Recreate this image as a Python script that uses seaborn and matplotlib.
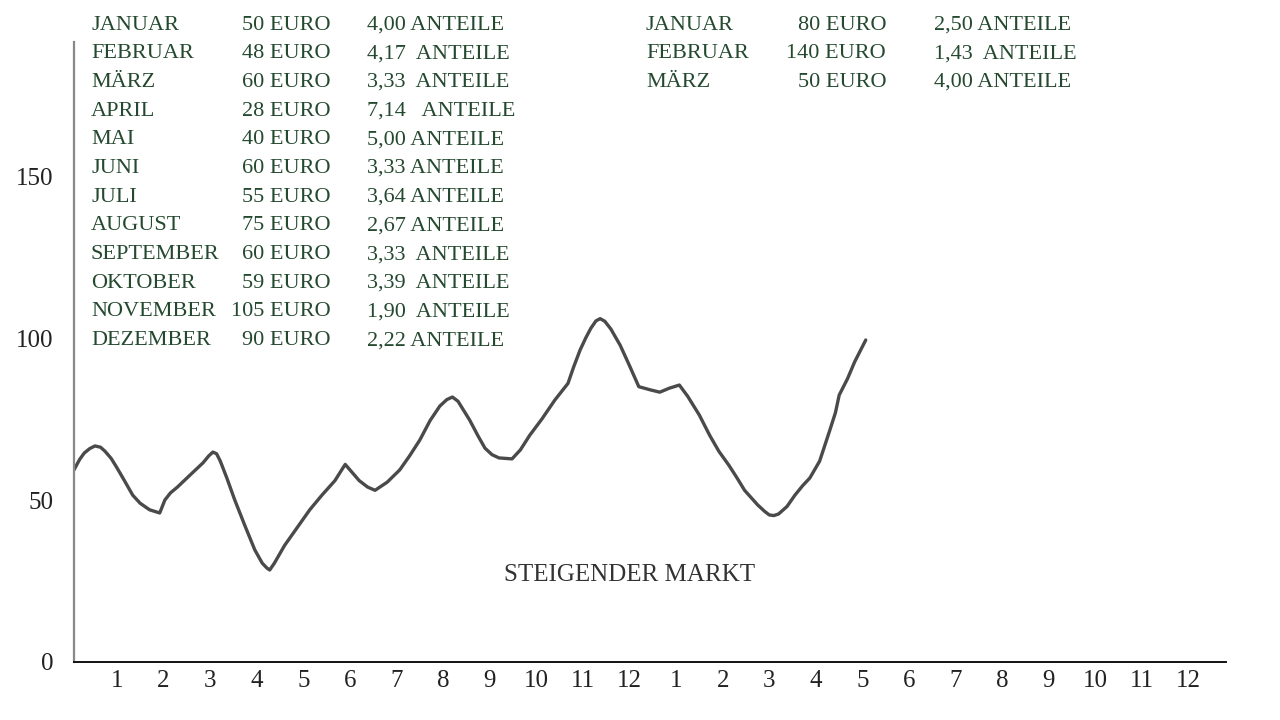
import matplotlib
matplotlib.use("Agg")
import matplotlib.pyplot as plt
import seaborn as sns
import pandas as pd

sns.set_style("white")
plt.rcParams['font.family'] = ['Liberation Serif', 'DejaVu Serif']

# price curve (x = month index, y = price)
month_pos = [0.08, 0.20, 0.30, 0.42, 0.53, 0.65, 0.75, 0.88, 1.00, 1.17, 1.34, 1.50, 1.70,
             1.92, 2.03, 2.15, 2.30, 2.57, 2.85, 2.97, 3.06, 3.14, 3.22, 3.36, 3.53,
             3.75, 3.96, 4.12, 4.22, 4.28, 4.38, 4.60, 4.87, 5.14, 5.40, 5.68, 5.82,
             5.90, 6.05, 6.20, 6.38, 6.54, 6.80, 7.07, 7.28, 7.50, 7.72, 7.93, 8.08,
             8.20, 8.32, 8.57, 8.75, 8.90, 9.05, 9.20, 9.48, 9.66, 9.86, 10.12, 10.40,
             10.68, 10.80, 10.94, 11.06, 11.17, 11.28, 11.37, 11.47, 11.60, 11.80,
             12.00, 12.20, 12.45, 12.65, 12.85, 13.07, 13.25, 13.50, 13.72, 13.92,
             14.13, 14.30, 14.47, 14.75, 14.90, 15.00, 15.10, 15.20, 15.38, 15.55,
             15.72, 15.87, 16.08, 16.30, 16.42, 16.50, 16.68, 16.83, 16.95, 17.07]
price = [59.3, 62.5, 64.5, 65.9, 66.7, 66.3, 65.0, 62.8, 60.0, 55.8, 51.5, 49.0, 47.0,
         46.0, 50.0, 52.2, 54.0, 57.7, 61.5, 63.6, 64.8, 64.3, 62.0, 56.8, 50.0,
         42.0, 34.6, 30.5, 29.0, 28.4, 30.5, 36.0, 41.5, 47.0, 51.5, 56.0, 59.2,
         61.0, 58.5, 56.0, 54.0, 53.0, 55.5, 59.3, 63.6, 68.5, 74.5, 79.0, 81.0,
         81.8, 80.5, 74.7, 69.8, 66.0, 64.0, 63.0, 62.7, 65.5, 70.0, 75.0, 80.9,
         86.0, 91.0, 96.3, 100.0, 103.0, 105.3, 106.0, 105.2, 102.8, 97.8,
         91.5, 85.0, 84.0, 83.3, 84.5, 85.5, 82.0, 76.2, 70.0, 65.0,
         60.8, 57.0, 53.0, 48.5, 46.5, 45.4, 45.2, 45.7, 48.0, 51.5,
         54.5, 56.8, 62.0, 71.6, 77.0, 82.4, 87.5, 92.6, 96.0, 99.4]

tick_pos = list(range(1, 25))
tick_labels = [str(m) for m in range(1, 13)] * 2
y_ticks = [0, 50, 100, 150]

months_1 = ["Januar", "Februar", "März", "April", "Mai", "Juni", "Juli", "August",
            "September", "Oktober", "November", "Dezember"]
euro_1 = ["50 Euro", "48 Euro", "60 Euro", "28 Euro", "40 Euro", "60 Euro", "55 Euro",
          "75 Euro", "60 Euro", "59 Euro", "105 Euro", "90 Euro"]
shares_1 = ["4,00 Anteile", "4,17  Anteile", "3,33  Anteile", "7,14   Anteile",
            "5,00 Anteile", "3,33 Anteile", "3,64 Anteile", "2,67 Anteile",
            "3,33  Anteile", "3,39  Anteile", "1,90  Anteile", "2,22 Anteile"]
months_2 = ["Januar", "Februar", "März"]
euro_2 = ["80 Euro", "140 Euro", "50 Euro"]
shares_2 = ["2,50 Anteile", "1,43  Anteile", "4,00 Anteile"]

df = pd.DataFrame({"t": month_pos, "price": price})

fig = plt.figure(figsize=(12.8, 7.2), dpi=100)
ax = fig.add_axes([0.0578, 0.0806, 0.9, 0.861])
sns.lineplot(data=df, x="t", y="price", ax=ax, color="#4a4a4a", linewidth=2.4,
             solid_joinstyle="round", solid_capstyle="round")

ax.set_xlim(0.08, 24.8)
ax.set_ylim(0, 191.4)
ax.set_xticks(tick_pos)
ax.set_xticklabels(tick_labels)
ax.set_yticks(y_ticks)
ax.set_yticklabels([str(v) for v in y_ticks])
ax.tick_params(axis="both", length=0, labelsize=18, colors="#222222")
ax.tick_params(axis="x", pad=6)
ax.tick_params(axis="y", pad=15)
ax.set_xlabel("")
ax.set_ylabel("")
sns.despine(ax=ax)
ax.spines["left"].set_color("#888888")
ax.spines["left"].set_linewidth(1.6)
ax.spines["bottom"].set_color("#111111")
ax.spines["bottom"].set_linewidth(1.4)

green = "#24492f"
W, H = 1280.0, 720.0
row_h = 28.7
fs = 16
for i, (m, e, s) in enumerate(zip(months_1, euro_1, shares_1)):
    y = 1 - (25 + i * row_h) / H
    fig.text(91 / W, y, m.upper(), color=green, fontsize=fs, va="center", ha="left")
    fig.text(331 / W, y, e.upper(), color=green, fontsize=fs, va="center", ha="right")
    fig.text(367 / W, y, s.upper(), color=green, fontsize=fs, va="center", ha="left")

for i, (m, e, s) in enumerate(zip(months_2, euro_2, shares_2)):
    y = 1 - (25 + i * row_h) / H
    fig.text(646 / W, y, m.upper(), color=green, fontsize=fs, va="center", ha="left")
    fig.text(886 / W, y, e.upper(), color=green, fontsize=fs, va="center", ha="right")
    fig.text(934 / W, y, s.upper(), color=green, fontsize=fs, va="center", ha="left")

fig.text(630 / W, 1 - 575 / H, "Steigender Markt".upper(), color="#333333",
         fontsize=18, va="center", ha="center")

fig.savefig("out.png", dpi=100, facecolor="white")
